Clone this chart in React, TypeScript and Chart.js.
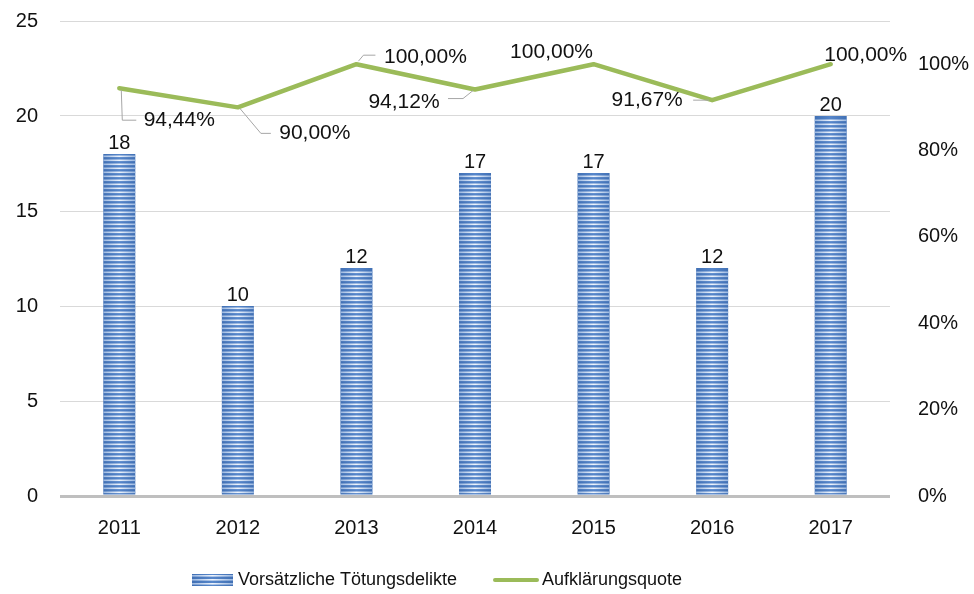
import React, { useEffect, useRef } from "react";
import { Chart, registerables } from "chart.js";

Chart.register(...registerables);

const years = ["2011", "2012", "2013", "2014", "2015", "2016", "2017"];
const delikte = [18, 10, 12, 17, 17, 12, 20];
const quote = [0.9444, 0.9, 1.0, 0.9412, 1.0, 0.9167, 1.0];
const leftTicks = [0, 5, 10, 15, 20, 25];
const rightTickMax = 1.0;

const seriesNames = ["Vorsätzliche Tötungsdelikte", "Aufklärungsquote"];

// label placement (text centre offset from point) and leader polylines, styling only
const labelOffsets: [number, number][] = [
  [60, 32],
  [77, 26],
  [69, -7],
  [-71, 13],
  [-42, -12],
  [-65, 0],
  [35, -9],
];
const leaders: [number, number][][] = [
  [[2, 2], [3, 32], [17, 32]],
  [[2, 1], [23, 26], [33, 26]],
  [[2, -3], [7, -9], [19, -9]],
  [[-2, 1], [-12, 9], [-27, 9]],
  [],
  [[-3, 0], [-19, 0]],
  [],
];

const FONT = "'Liberation Sans', Arial, sans-serif";
const TEXT = "#111111";
const GREEN = "#9bbb59";

function fmtPct(v: number) {
  return (v * 100).toFixed(2).replace(".", ",") + "%";
}

function drawStriped(ctx: CanvasRenderingContext2D, left: number, top: number, w: number, h: number) {
  ctx.save();
  const dark = ctx.createLinearGradient(left, 0, left + w, 0);
  dark.addColorStop(0, "#4170b4");
  dark.addColorStop(0.5, "#5787cb");
  dark.addColorStop(1, "#4170b4");
  ctx.fillStyle = dark;
  ctx.fillRect(left, top, w, h);
  const light = ctx.createLinearGradient(left, 0, left + w, 0);
  light.addColorStop(0, "#9ab7e0");
  light.addColorStop(0.5, "#eef4fc");
  light.addColorStop(1, "#9ab7e0");
  ctx.fillStyle = light;
  const bottom = top + h;
  for (let yy = bottom - 3; yy > top; yy -= 4) {
    const t = Math.max(yy, top);
    ctx.fillRect(left, t, w, Math.min(1.6, bottom - t));
  }
  ctx.restore();
}

const stripePlugin = {
  id: "stripes",
  afterDatasetDraw(chart: any, args: any) {
    if (args.index !== 0) return;
    const ctx = chart.ctx;
    args.meta.data.forEach((el: any) => {
      const p = el.getProps(["x", "y", "base", "width"], true);
      drawStriped(ctx, p.x - p.width / 2, p.y, p.width, p.base - p.y);
    });
  },
};

const labelPlugin = {
  id: "labels",
  afterDatasetsDraw(chart: any) {
    const ctx = chart.ctx;
    ctx.save();
    const barMeta = chart.getDatasetMeta(0);
    ctx.font = `20px ${FONT}`;
    ctx.fillStyle = TEXT;
    ctx.textAlign = "center";
    ctx.textBaseline = "middle";
    barMeta.data.forEach((el: any, i: number) => {
      const p = el.getProps(["x", "y"], true);
      ctx.fillText(String(delikte[i]), p.x, p.y - 11);
    });
    const lineMeta = chart.getDatasetMeta(1);
    lineMeta.data.forEach((el: any, i: number) => {
      const p = el.getProps(["x", "y"], true);
      const pts = leaders[i];
      if (pts.length) {
        ctx.strokeStyle = "#a6a6a6";
        ctx.lineWidth = 1;
        ctx.beginPath();
        pts.forEach(([dx, dy], k) => {
          if (k === 0) ctx.moveTo(p.x + dx, p.y + dy);
          else ctx.lineTo(p.x + dx, p.y + dy);
        });
        ctx.stroke();
      }
      ctx.font = `21px ${FONT}`;
      ctx.fillStyle = TEXT;
      ctx.fillText(fmtPct(quote[i]), p.x + labelOffsets[i][0], p.y + labelOffsets[i][1]);
    });
    ctx.restore();
  },
};

const legendPlugin = {
  id: "customLegend",
  afterDraw(chart: any) {
    const ctx = chart.ctx;
    ctx.save();
    const cy = 580;
    drawStriped(ctx, 192, 574, 41, 12);
    ctx.font = `18px ${FONT}`;
    ctx.fillStyle = TEXT;
    ctx.textAlign = "left";
    ctx.textBaseline = "middle";
    ctx.fillText(seriesNames[0], 238, cy);
    ctx.strokeStyle = GREEN;
    ctx.lineWidth = 4;
    ctx.lineCap = "round";
    ctx.beginPath();
    ctx.moveTo(495, cy);
    ctx.lineTo(537, cy);
    ctx.stroke();
    ctx.fillText(seriesNames[1], 542, cy);
    ctx.restore();
  },
};

function fixVertical(width: number) {
  return (scale: any) => {
    scale.width = width;
    scale.paddingTop = 0;
    scale.paddingBottom = 0;
  };
}

export default function App() {
  const ref = useRef<HTMLCanvasElement | null>(null);
  useEffect(() => {
    if (!ref.current) return;
    const chart = new Chart(ref.current, {
      type: "bar",
      data: {
        labels: years,
        datasets: [
          {
            type: "bar",
            label: seriesNames[0],
            data: delikte,
            backgroundColor: "rgba(0,0,0,0)",
            borderWidth: 0,
            yAxisID: "y",
            order: 1,
            categoryPercentage: 1,
            barPercentage: 0.27,
          },
          {
            type: "line",
            label: seriesNames[1],
            data: quote,
            borderColor: GREEN,
            borderWidth: 4.5,
            pointRadius: 0,
            tension: 0,
            borderJoinStyle: "round",
            borderCapStyle: "round",
            yAxisID: "y1",
            order: 0,
          } as any,
        ],
      },
      options: {
        responsive: false,
        animation: false,
        layout: { padding: { top: 21, bottom: 0, left: 0, right: 0 } },
        font: { family: FONT },
        plugins: {
          legend: { display: false },
          tooltip: { enabled: false },
        },
        scales: {
          x: {
            grid: { display: false, drawTicks: false },
            border: { display: false },
            ticks: { color: TEXT, font: { size: 20, family: FONT }, padding: 20 },
            afterFit(scale: any) {
              scale.height = 98;
              scale.paddingLeft = 0;
              scale.paddingRight = 0;
            },
          },
          y: {
            position: "left",
            min: leftTicks[0],
            max: leftTicks[leftTicks.length - 1],
            ticks: { stepSize: 5, color: TEXT, font: { size: 20, family: FONT }, padding: 22 },
            grid: {
              drawTicks: false,
              color: (c: any) => (c.tick && c.tick.value === 0 ? "#bfbfbf" : "#d9d9d9"),
              lineWidth: (c: any) => (c.tick && c.tick.value === 0 ? 3 : 1),
            },
            border: { display: false },
            afterFit: fixVertical(60),
          },
          y1: {
            position: "right",
            min: 0,
            max: 1.1,
            ticks: {
              stepSize: 0.2,
              color: TEXT,
              font: { size: 20, family: FONT },
              padding: 28,
              callback: (v: any) => (v <= rightTickMax + 1e-6 ? Math.round(v * 100) + "%" : ""),
            },
            afterBuildTicks(scale: any) {
              scale.ticks = scale.ticks.filter((t: any) => t.value <= rightTickMax + 1e-6);
            },
            grid: { display: false, drawTicks: false },
            border: { display: false },
            afterFit: fixVertical(84),
          },
        },
      } as any,
      plugins: [stripePlugin, labelPlugin, legendPlugin],
    });
    return () => chart.destroy();
  }, []);
  return (
    <div style={{ position: "fixed", left: 0, top: 0, width: 974, height: 594, background: "#fff" }}>
      <canvas ref={ref} width={974} height={594} />
    </div>
  );
}
